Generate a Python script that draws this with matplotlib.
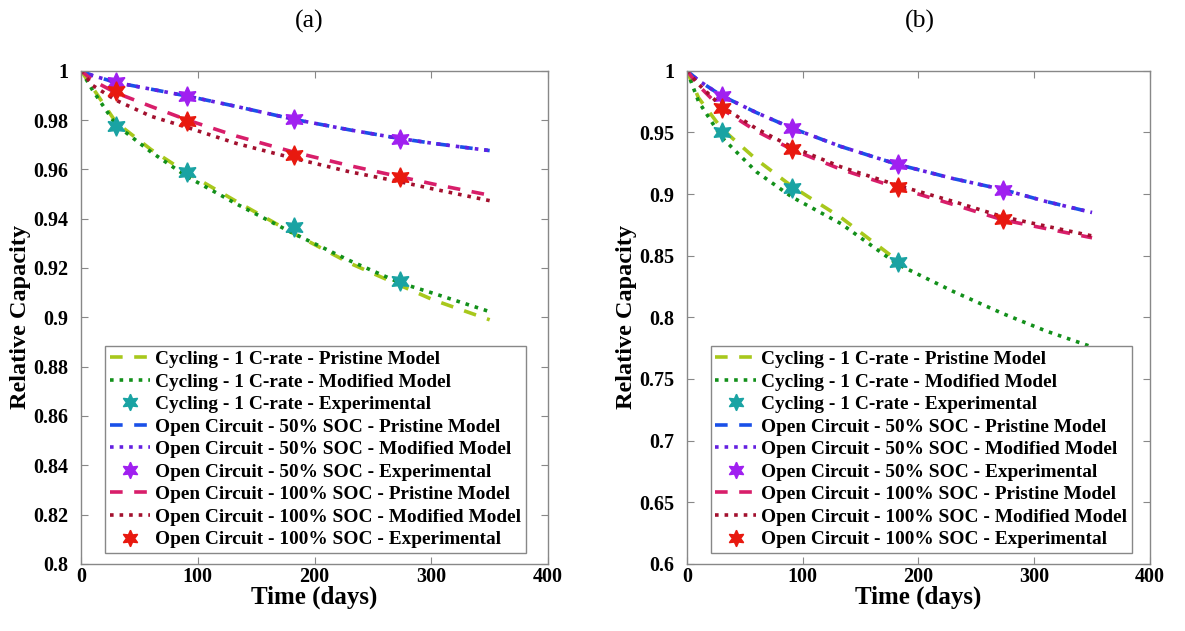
import matplotlib
matplotlib.use("Agg")
import matplotlib.pyplot as plt
import numpy as np

# ---- data ----
# (a)
t_a = [0, 10, 30, 60, 91, 133, 182, 230, 273, 302, 350]
cyc_prist_a = [1.0, 0.993, 0.979, 0.968, 0.9585, 0.947, 0.934, 0.922, 0.913, 0.907, 0.899]
cyc_mod_a = [1.0, 0.992, 0.978, 0.967, 0.957, 0.946, 0.934, 0.923, 0.914, 0.9097, 0.9023]
oc50_a = [1.0, 0.998, 0.9952, 0.9925, 0.9897, 0.9855, 0.9803, 0.976, 0.9725, 0.9705, 0.9676]
oc100_prist_a = [1.0, 0.996, 0.991, 0.9855, 0.980, 0.9735, 0.967, 0.9615, 0.957, 0.954, 0.9495]
oc100_mod_a = [1.0, 0.994, 0.988, 0.9815, 0.977, 0.9705, 0.9645, 0.959, 0.955, 0.952, 0.9473]

t_exp_a = [30, 91, 182, 273]
cyc_exp_a = [0.9776, 0.9588, 0.9365, 0.9148]
oc50_exp_a = [0.9953, 0.9897, 0.9803, 0.9723]
oc100_exp_a = [0.9918, 0.9796, 0.9658, 0.957]

# (b)
t_b = [0, 10, 30, 60, 91, 133, 182, 230, 273, 310, 350]
cyc_mod_b = [1.0, 0.975, 0.946, 0.918, 0.8974, 0.876, 0.843, 0.821, 0.803, 0.789, 0.776]
oc50_b = [1.0, 0.992, 0.9797, 0.966, 0.9533, 0.9385, 0.924, 0.9125, 0.9036, 0.894, 0.885]
oc100_prist_b = [1.0, 0.988, 0.969, 0.951, 0.936, 0.92, 0.905, 0.8915, 0.879, 0.872, 0.8645]
oc100_mod_b = [1.0, 0.989, 0.971, 0.953, 0.938, 0.922, 0.907, 0.894, 0.8815, 0.874, 0.866]
t_b_prist = [0, 10, 30, 60, 91, 133, 182]
cyc_prist_b = [1.0, 0.978, 0.953, 0.928, 0.906, 0.881, 0.846]

t_exp_b = [30, 91, 182, 273]
t_exp_b_cyc = [30, 91, 182]
cyc_exp_b = [0.950, 0.905, 0.845]
oc50_exp_b = [0.9797, 0.9533, 0.924, 0.9036]
oc100_exp_b = [0.9695, 0.9366, 0.9055, 0.880]

labels = ["Cycling - 1 C-rate - Pristine Model",
          "Cycling - 1 C-rate - Modified Model",
          "Cycling - 1 C-rate - Experimental",
          "Open Circuit - 50% SOC - Pristine Model",
          "Open Circuit - 50% SOC - Modified Model",
          "Open Circuit - 50% SOC - Experimental",
          "Open Circuit - 100% SOC - Pristine Model",
          "Open Circuit - 100% SOC - Modified Model",
          "Open Circuit - 100% SOC - Experimental"]

c_cyc_p, c_cyc_m, c_cyc_e = "#A8C81C", "#12901A", "#1AA3A3"
c_50_p, c_50_m, c_50_e = "#1A50E8", "#6420E0", "#A020F0"
c_100_p, c_100_m, c_100_e = "#D81E6A", "#A3102E", "#E8190F"

star = (6, 1, 0)
lw = 2.6
dash = (3.5, 3.2)
ms = 14

plt.rcParams['font.family'] = ['Liberation Serif', 'DejaVu Serif']
plt.rcParams['font.weight'] = 'bold'

fig = plt.figure(figsize=(11.85, 6.31), dpi=100)
ax1 = fig.add_axes([0.0684, 0.1062, 0.3941, 0.7818])
ax2 = fig.add_axes([0.5797, 0.1062, 0.3907, 0.7818])


def draw(ax, tm, cp, tcp, cm, te_c, ce, o50, te, o50e, o100p, o100m, o100e):
    ax.plot(tcp, cp, color=c_cyc_p, lw=lw, dashes=dash, label=labels[0])
    ax.plot(tm, cm, color=c_cyc_m, lw=lw, ls=':', label=labels[1])
    ax.plot(te_c, ce, ls='none', marker=star, ms=ms, color=c_cyc_e, label=labels[2])
    ax.plot(tm, o50, color=c_50_p, lw=lw, dashes=dash, label=labels[3])
    ax.plot(tm, o50, color=c_50_m, lw=lw, ls=':', label=labels[4])
    ax.plot(te, o50e, ls='none', marker=star, ms=ms, color=c_50_e, label=labels[5])
    ax.plot(tm, o100p, color=c_100_p, lw=lw, dashes=dash, label=labels[6])
    ax.plot(tm, o100m, color=c_100_m, lw=lw, ls=':', label=labels[7])
    ax.plot(te, o100e, ls='none', marker=star, ms=ms, color=c_100_e, label=labels[8])

    ax.set_xlim(0, 400)
    ax.set_xticks([0, 100, 200, 300, 400])
    ax.tick_params(direction='in', top=True, right=True, length=5, width=0.8,
                   color='#888888', labelsize=14.5)
    ax.tick_params(axis='x', pad=2)
    ax.tick_params(axis='y', pad=9)
    for s in ax.spines.values():
        s.set_color('#888888')
        s.set_linewidth(1.0)
    ax.set_xlabel("Time (days)", fontsize=18, fontweight='bold', labelpad=-1)
    ax.set_ylabel("Relative Capacity", fontsize=17.5, fontweight='bold', labelpad=2)
    leg = ax.legend(loc='lower left', bbox_to_anchor=(0.051, 0.022), borderaxespad=0,
                    fontsize=13.9, handlelength=2.1, handletextpad=0.25,
                    labelspacing=0.26, borderpad=0.25, fancybox=False,
                    framealpha=1, edgecolor='#888888', markerscale=0.85)
    leg.get_frame().set_linewidth(1.0)
    for txt in leg.get_texts():
        txt.set_fontweight('bold')


draw(ax1, t_a, cyc_prist_a, t_a, cyc_mod_a, t_exp_a, cyc_exp_a, oc50_a, t_exp_a,
     oc50_exp_a, oc100_prist_a, oc100_mod_a, oc100_exp_a)
ax1.set_ylim(0.8, 1.0)
ax1.set_yticks(np.arange(0.8, 1.001, 0.02))
ax1.set_yticklabels(["0.8", "0.82", "0.84", "0.86", "0.88", "0.9", "0.92",
                     "0.94", "0.96", "0.98", "1"])

draw(ax2, t_b, cyc_prist_b, t_b_prist, cyc_mod_b, t_exp_b_cyc, cyc_exp_b, oc50_b, t_exp_b,
     oc50_exp_b, oc100_prist_b, oc100_mod_b, oc100_exp_b)
ax2.set_ylim(0.6, 1.0)
ax2.set_yticks(np.arange(0.6, 1.001, 0.05))
ax2.set_yticklabels(["0.6", "0.65", "0.7", "0.75", "0.8", "0.85", "0.9", "0.95", "1"])

fig.text(0.261, 0.966, "(a)", ha='center', va='center', fontsize=18.5, fontweight='normal')
fig.text(0.776, 0.966, "(b)", ha='center', va='center', fontsize=18.5, fontweight='normal')

fig.savefig("out.png", dpi=100)
